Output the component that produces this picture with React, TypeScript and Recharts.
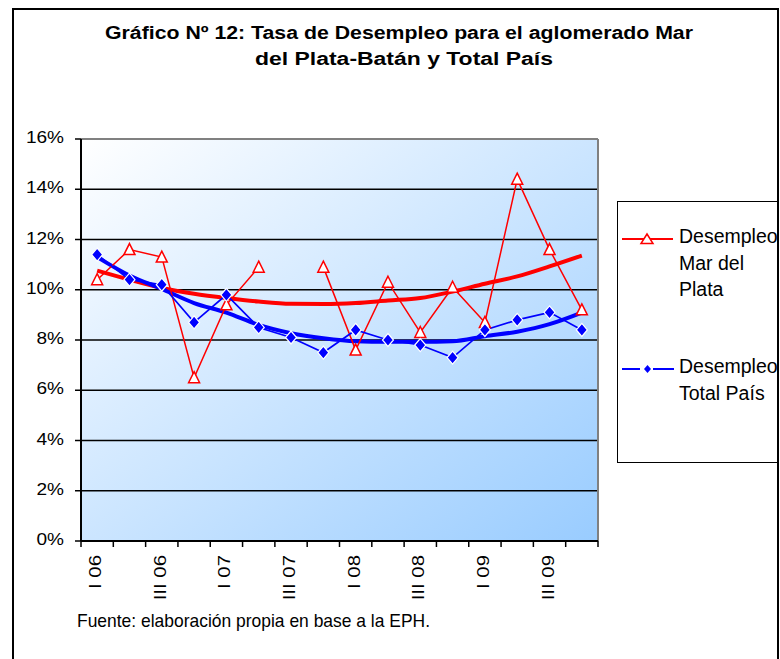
import React from "react";
import {
  LineChart,
  Line,
  XAxis,
  YAxis,
  CartesianGrid,
  ReferenceLine,
  Legend,
} from "recharts";

const categories = [
  "I 06", "II 06", "III 06", "IV 06",
  "I 07", "II 07", "III 07", "IV 07",
  "I 08", "II 08", "III 08", "IV 08",
  "I 09", "II 09", "III 09", "IV 09",
];
const mdpValues: (number | null)[] = [
  10.4, 11.6, 11.3, 6.5, 9.4, 10.9, null, 10.9,
  7.6, 10.3, 8.3, 10.1, 8.7, 14.4, 11.6, 9.2,
];
const totalValues = [
  11.4, 10.4, 10.2, 8.7, 9.8, 8.5, 8.1, 7.5,
  8.4, 8.0, 7.8, 7.3, 8.4, 8.8, 9.1, 8.4,
];
const mdpTrend = [
  10.76, 10.4, 10.07, 9.84, 9.67, 9.53, 9.44, 9.43,
  9.47, 9.57, 9.67, 9.93, 10.24, 10.53, 10.93, 11.36,
];
const totalTrend = [
  11.3, 10.57, 10.03, 9.47, 9.09, 8.6, 8.27, 8.07,
  7.95, 7.93, 7.93, 7.95, 8.15, 8.33, 8.63, 9.09,
];
const yTicks = [0, 2, 4, 6, 8, 10, 12, 14, 16];
const titleLines = [
  "Gráfico Nº 12: Tasa de Desempleo para el aglomerado Mar",
  "del Plata-Batán y Total País",
];
const sourceNote = "Fuente: elaboración propia en base a la EPH.";
const seriesNames = {
  mdp: "Desempleo Mar del Plata",
  total: "Desempleo Total País",
};
const legendLines: Record<string, string[]> = {
  mdp: ["Desempleo", "Mar del", "Plata"],
  total: ["Desempleo", "Total País"],
};

const data = categories.map((c, i) => ({
  pos: i + 0.5,
  cat: c,
  mdp: mdpValues[i],
  total: totalValues[i],
  mdpTrend: mdpTrend[i],
  totalTrend: totalTrend[i],
}));

const xTicks: number[] = [];
for (let i = 0; i <= categories.length; i++) {
  xTicks.push(i);
  if (i < categories.length) xTicks.push(i + 0.5);
}

const FONT = "'Liberation Sans', Arial, sans-serif";
const RED = "#FF0000";
const BLUE = "#0000FF";

const YTick = (props: any) => {
  const { x, y, payload } = props;
  return (
    <g transform={`translate(${x},${y + 4})`}>
      <text
        textAnchor="end"
        fontSize={16}
        fontFamily={FONT}
        fill="#000"
        transform="scale(1.19,1)"
      >
        {payload.value}%
      </text>
    </g>
  );
};

const XTick = (props: any) => {
  const { x, y, payload } = props;
  const v = payload.value as number;
  if (Number.isInteger(v)) {
    return <line x1={x} y1={y} x2={x} y2={y + 6} stroke="#000" strokeWidth={1.5} />;
  }
  const idx = Math.round(v - 0.5);
  if (idx % 2 !== 0) return <g />;
  return (
    <g transform={`translate(${x + 4},${y + 14}) rotate(-90)`}>
      <text
        textAnchor="end"
        fontSize={17}
        fontFamily={FONT}
        fill="#000"
        transform="scale(1.2,1)"
      >
        {categories[idx]}
      </text>
    </g>
  );
};

const TriangleDot = (p: any) => {
  const { cx, cy, index, value } = p;
  if (cx == null || cy == null || value == null) return <g key={`t${index}`} />;
  const w = 5.5;
  const h = 10;
  return (
    <polygon
      key={`t${index}`}
      points={`${cx},${cy - h / 2 - 1} ${cx + w},${cy + h / 2} ${cx - w},${cy + h / 2}`}
      fill="#fff"
      stroke={RED}
      strokeWidth={1.5}
    />
  );
};

const DiamondDot = (p: any) => {
  const { cx, cy, index, value } = p;
  if (cx == null || cy == null || value == null) return <g key={`d${index}`} />;
  return (
    <polygon
      key={`d${index}`}
      points={`${cx},${cy - 6.5} ${cx + 5.5},${cy} ${cx},${cy + 6.5} ${cx - 5.5},${cy}`}
      fill={BLUE}
      stroke="#fff"
      strokeWidth={1.2}
    />
  );
};

const LegendContent = (props: any) => {
  const payload = (props.payload || []).filter(
    (e: any) => legendLines[e.dataKey as string]
  );
  return (
    <div
      style={{
        width: 161,
        height: 262,
        boxSizing: "border-box",
        border: "1.5px solid #000",
        background: "#fff",
        position: "relative",
      }}
    >
      <svg width={161} height={262} style={{ position: "absolute", left: -1.5, top: -1.5, overflow: "visible" }}>
        {payload.map((e: any, i: number) => {
          const key = e.dataKey as string;
          const ly = 38 + i * 130;
          const isTri = key === "mdp";
          return (
            <g key={key}>
              {isTri ? (
                <line x1={5} y1={ly} x2={56} y2={ly} stroke={RED} strokeWidth={2} />
              ) : (
                <>
                  <line x1={5} y1={ly} x2={23} y2={ly} stroke={BLUE} strokeWidth={2} />
                  <line x1={36} y1={ly} x2={57} y2={ly} stroke={BLUE} strokeWidth={2} />
                </>
              )}
              {isTri ? (
                <polygon
                  points={`30,${ly - 5} 36,${ly + 4.5} 24,${ly + 4.5}`}
                  fill="#fff"
                  stroke={RED}
                  strokeWidth={1.5}
                />
              ) : (
                <polygon
                  points={`30.5,${ly - 4} 34,${ly} 30.5,${ly + 4} 27,${ly}`}
                  fill={BLUE}
                />
              )}
              {legendLines[key].map((t, j) => (
                <text
                  key={j}
                  x={62}
                  y={ly + 4 + j * 26.5}
                  fontSize={19.5}
                  fontFamily={FONT}
                  fill="#000"
                >
                  {t}
                </text>
              ))}
            </g>
          );
        })}
      </svg>
    </div>
  );
};

export default function App() {
  return (
    <div
      style={{
        position: "relative",
        width: 780,
        height: 659,
        overflow: "hidden",
        fontFamily: FONT,
        background: "#fff",
      }}
    >
      <style>{`html,body{margin:0;padding:0;overflow:hidden;}`}</style>
      <div
        style={{
          position: "absolute",
          left: 12,
          top: 8,
          width: 767,
          height: 700,
          boxSizing: "border-box",
          border: "2px solid #000",
        }}
      />
      <div style={{ position: "absolute", left: 8, top: 8 }}>
        <LineChart
          width={771}
          height={643}
          data={data}
          margin={{ top: 131, right: 181, left: 0, bottom: 0 }}
        >
          <defs>
            <linearGradient id="plotBg" x1="0" y1="0" x2="1" y2="1">
              <stop offset="0%" stopColor="#FFFFFF" />
              <stop offset="100%" stopColor="#99CCFF" />
            </linearGradient>
          </defs>
          <CartesianGrid
            vertical={false}
            stroke="#000"
            strokeWidth={1.5}
            fill="url(#plotBg)"
            fillOpacity={1}
          />
          <XAxis
            type="number"
            dataKey="pos"
            domain={[0, categories.length]}
            ticks={xTicks}
            interval={0}
            tick={<XTick />}
            tickLine={false}
            tickSize={0}
            tickMargin={0}
            height={110}
            axisLine={{ stroke: "#000", strokeWidth: 2 }}
          />
          <YAxis
            domain={[0, 16]}
            ticks={yTicks}
            interval={0}
            width={73}
            tick={<YTick />}
            tickSize={6}
            tickMargin={11}
            tickLine={{ stroke: "#000", strokeWidth: 1.5 }}
            axisLine={{ stroke: "#000", strokeWidth: 2 }}
          />
          <ReferenceLine y={16} stroke="#808080" strokeWidth={2} />
          <ReferenceLine x={categories.length} stroke="#808080" strokeWidth={2} />
          <Line
            dataKey="mdpTrend"
            type="monotone"
            stroke={RED}
            strokeWidth={4}
            dot={false}
            activeDot={false}
            legendType="none"
            isAnimationActive={false}
          />
          <Line
            dataKey="totalTrend"
            type="monotone"
            stroke={BLUE}
            strokeWidth={4}
            dot={false}
            activeDot={false}
            legendType="none"
            isAnimationActive={false}
          />
          <Line
            dataKey="mdp"
            name={seriesNames.mdp}
            type="linear"
            stroke={RED}
            strokeWidth={1.5}
            dot={TriangleDot}
            activeDot={false}
            isAnimationActive={false}
          />
          <Line
            dataKey="total"
            name={seriesNames.total}
            type="linear"
            stroke={BLUE}
            strokeWidth={1.7}
            dot={DiamondDot}
            activeDot={false}
            isAnimationActive={false}
          />
          <Legend
            layout="vertical"
            align="center"
            verticalAlign="middle"
            content={<LegendContent />}
            wrapperStyle={{ left: 609, top: 193, width: 161, height: 262 }}
          />
        </LineChart>
      </div>
      <svg
        width={780}
        height={659}
        style={{ position: "absolute", left: 0, top: 0, pointerEvents: "none" }}
      >
        <text
          x={399}
          y={39}
          textAnchor="middle"
          fontSize={17.5}
          fontWeight="bold"
          fontFamily={FONT}
          textLength={588}
          lengthAdjust="spacingAndGlyphs"
        >
          {titleLines[0]}
        </text>
        <text
          x={404}
          y={65}
          textAnchor="middle"
          fontSize={17.5}
          fontWeight="bold"
          fontFamily={FONT}
          textLength={298}
          lengthAdjust="spacingAndGlyphs"
        >
          {titleLines[1]}
        </text>
        <text
          x={77}
          y={627}
          fontSize={19}
          fontFamily={FONT}
          textLength={353}
          lengthAdjust="spacingAndGlyphs"
        >
          {sourceNote}
        </text>
      </svg>
    </div>
  );
}
